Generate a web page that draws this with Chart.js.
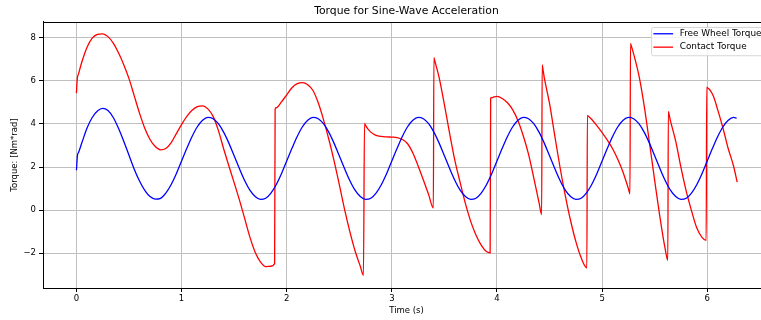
<!DOCTYPE html>
<html>
<head>
<meta charset="utf-8">
<script src="https://cdn.jsdelivr.net/npm/chart.js@4.4.1/dist/chart.umd.min.js"></script>
<style>
  html, body { margin: 0; padding: 0; background: #fff; overflow: hidden; }
  #wrap { width: 761px; height: 320px; overflow: hidden; }
</style>
</head>
<body>
<div id="wrap"><canvas id="torqueChart" width="790" height="320"></canvas></div>
<script>
// chart text
const chartTitle = 'Torque for Sine-Wave Acceleration';
const xLabel = 'Time (s)';
const yLabel = 'Torque: [Nm*rad]';
const seriesNames = ['Free Wheel Torque', 'Contact Torque'];

// axis ticks and range
const xTicks = [0, 1, 2, 3, 4, 5, 6];
const yTicks = [-2, 0, 2, 4, 6, 8];
const xRange = [-0.318, 6.597];
const yRange = [-3.61, 8.73];

// free wheel torque (blue)
const blueTime = [
    0, 0.01, 0.02, 0.05, 0.1, 0.15, 0.2, 0.25, 0.3, 0.35, 0.4, 0.45, 0.5, 0.55, 0.6, 0.65, 0.7, 0.75, 0.8, 0.85, 0.9, 0.95,
    1, 1.05, 1.1, 1.15, 1.2, 1.25, 1.3, 1.35, 1.4, 1.45, 1.5, 1.55, 1.6, 1.65, 1.7, 1.75, 1.8, 1.85, 1.9, 1.95,
    2, 2.05, 2.1, 2.15, 2.2, 2.25, 2.3, 2.35, 2.4, 2.45, 2.5, 2.55, 2.6, 2.65, 2.7, 2.75, 2.8, 2.85, 2.9, 2.95,
    3, 3.05, 3.1, 3.15, 3.2, 3.25, 3.3, 3.35, 3.4, 3.45, 3.5, 3.55, 3.6, 3.65, 3.7, 3.75, 3.8, 3.85, 3.9, 3.95,
    4, 4.05, 4.1, 4.15, 4.2, 4.25, 4.3, 4.35, 4.4, 4.45, 4.5, 4.55, 4.6, 4.65, 4.7, 4.75, 4.8, 4.85, 4.9, 4.95,
    5, 5.05, 5.1, 5.15, 5.2, 5.25, 5.3, 5.35, 5.4, 5.45, 5.5, 5.55, 5.6, 5.65, 5.7, 5.75, 5.8, 5.85, 5.9, 5.95,
    6, 6.05, 6.1, 6.15, 6.2, 6.25, 6.28
];
const blueTorque = [
    1.85, 2.55, 2.68, 3.1, 3.8, 4.3, 4.6, 4.72, 4.62, 4.3, 3.8, 3.2, 2.55, 1.9, 1.35, 0.92, 0.63, 0.51, 0.55, 0.79, 1.18, 1.69,
    2.28, 2.87, 3.42, 3.87, 4.17, 4.3, 4.24, 4.01, 3.62, 3.11, 2.52, 1.93, 1.38, 0.93, 0.63, 0.5, 0.55, 0.79, 1.18, 1.69,
    2.28, 2.87, 3.42, 3.87, 4.17, 4.3, 4.24, 4.01, 3.62, 3.11, 2.52, 1.93, 1.38, 0.93, 0.63, 0.5, 0.55, 0.79, 1.18, 1.69,
    2.28, 2.87, 3.42, 3.87, 4.17, 4.3, 4.24, 4.01, 3.62, 3.11, 2.52, 1.93, 1.38, 0.93, 0.63, 0.5, 0.55, 0.79, 1.18, 1.69,
    2.28, 2.87, 3.42, 3.87, 4.17, 4.3, 4.24, 4.01, 3.62, 3.11, 2.52, 1.93, 1.38, 0.93, 0.63, 0.5, 0.55, 0.79, 1.18, 1.69,
    2.28, 2.87, 3.42, 3.87, 4.17, 4.3, 4.24, 4.01, 3.62, 3.11, 2.52, 1.93, 1.38, 0.93, 0.63, 0.5, 0.55, 0.79, 1.18, 1.69,
    2.28, 2.87, 3.42, 3.87, 4.17, 4.3, 4.27
];

// contact torque (red), one line per stretch between the jumps
const redTime = [
    0, 0.008, 0.02, 0.05, 0.1, 0.15, 0.2, 0.25, 0.3, 0.35, 0.4, 0.45, 0.5, 0.55, 0.6, 0.65, 0.7, 0.75, 0.8, 0.85, 0.9,
    0.95, 1, 1.05, 1.1, 1.15, 1.2, 1.25, 1.3, 1.35, 1.4, 1.45, 1.5, 1.55, 1.6, 1.65, 1.7, 1.75, 1.8, 1.85, 1.885,
    1.89, 1.9, 1.95, 2, 2.05, 2.1, 2.15, 2.2, 2.25, 2.3, 2.35, 2.4, 2.45, 2.5, 2.55, 2.6, 2.65, 2.7, 2.73,
    2.74, 2.75, 2.77, 2.8, 2.85, 2.9, 2.95, 3, 3.05, 3.1, 3.15, 3.2, 3.25, 3.3, 3.35, 3.395,
    3.4, 3.41, 3.45, 3.5, 3.55, 3.6, 3.65, 3.7, 3.75, 3.8, 3.85, 3.9, 3.935,
    3.94, 3.95, 3.97, 4, 4.05, 4.1, 4.15, 4.2, 4.25, 4.3, 4.35, 4.4, 4.425,
    4.43, 4.44, 4.45, 4.5, 4.55, 4.6, 4.65, 4.7, 4.75, 4.8, 4.855,
    4.86, 4.87, 4.9, 4.95, 5, 5.05, 5.1, 5.15, 5.2, 5.25, 5.265,
    5.27, 5.28, 5.3, 5.35, 5.4, 5.45, 5.5, 5.55, 5.6, 5.625,
    5.63, 5.64, 5.65, 5.7, 5.75, 5.8, 5.85, 5.9, 5.95, 5.99,
    5.995, 6.005, 6.03, 6.06, 6.1, 6.15, 6.2, 6.25, 6.285
];
const redTorque = [
    5.43, 6.1, 6.32, 6.85, 7.55, 7.98, 8.15, 8.18, 8.05, 7.75, 7.3, 6.75, 6.1, 5.3, 4.5, 3.8, 3.28, 2.95, 2.8, 2.86, 3.12,
    3.55, 3.97, 4.35, 4.63, 4.8, 4.84, 4.7, 4.35, 3.7, 2.85, 2.05, 1.28, 0.48, -0.38, -1.25, -1.95, -2.4, -2.62, -2.6, -2.48,
    4.69, 4.75, 5.02, 5.35, 5.68, 5.87, 5.92, 5.82, 5.55, 4.98, 4.2, 3.3, 2.3, 1.2, 0.05, -0.98, -1.88, -2.6, -3.02,
    4.02, 3.93, 3.78, 3.62, 3.47, 3.42, 3.4, 3.39, 3.37, 3.28, 3.08, 2.65, 2.05, 1.4, 0.72, 0.1,
    7.08, 6.9, 6.15, 4.9, 3.55, 2.3, 1.28, 0.3, -0.52, -1.15, -1.62, -1.92, -1.98,
    5.2, 5.22, 5.25, 5.28, 5.18, 4.98, 4.65, 4.15, 3.45, 2.6, 1.5, 0.35, -0.2,
    6.74, 6.45, 6.15, 4.95, 3.45, 1.98, 0.68, -0.48, -1.45, -2.2, -2.68,
    4.4, 4.36, 4.22, 3.92, 3.6, 3.25, 2.85, 2.35, 1.75, 1.0, 0.76,
    7.74, 7.58, 7.25, 6.25, 4.85, 3.15, 1.38, -0.32, -1.8, -2.32,
    4.58, 4.37, 4.15, 3.2, 1.98, 0.88, -0.02, -0.82, -1.26, -1.4,
    5.71, 5.67, 5.55, 5.27, 4.65, 3.8, 2.85, 2.05, 1.3
];

const seriesColors = ['#0000ff', '#ff0000'];

Chart.defaults.font.family = '"DejaVu Sans", sans-serif';
Chart.defaults.color = '#000';

function toPoints(times, values) {
    return times.map((t, i) => ({ x: t, y: values[i] }));
}

function minusSign(v) {
    return v < 0 ? '\u2212' + Math.abs(v) : String(v);
}

// axes frame (top and right spines too, like matplotlib)
const framePlugin = {
    id: 'frame',
    afterDatasetsDraw(chart) {
        const a = chart.chartArea;
        const ctx = chart.ctx;
        ctx.save();
        ctx.strokeStyle = '#000';
        ctx.lineWidth = 1;
        ctx.strokeRect(Math.round(a.left) + 0.5, Math.round(a.top) + 0.5,
            Math.round(a.right - a.left), Math.round(a.bottom - a.top));
        ctx.restore();
    }
};

// legend box in the upper right corner of the plot
const boxLegend = {
    id: 'boxLegend',
    afterDraw(chart) {
        const a = chart.chartArea;
        const ctx = chart.ctx;
        const sets = chart.data.datasets;
        ctx.save();
        ctx.font = '8.9px "DejaVu Sans"';
        const textW = Math.max(...sets.map(d => ctx.measureText(d.label).width));
        const right = a.right - 4;
        const left = right - (2.3 + 19.7 + 6.6 + textW + 4.5);
        const top = a.top + 5;
        const bottom = top + 28.3;
        ctx.fillStyle = 'rgba(255,255,255,0.8)';
        ctx.strokeStyle = '#d6d6d6';
        ctx.lineWidth = 1;
        ctx.beginPath();
        ctx.roundRect(left + 0.5, top + 0.5, right - left, bottom - top, 2);
        ctx.fill();
        ctx.stroke();
        sets.forEach((d, i) => {
            const y = top + 6.8 + i * 13.4;
            ctx.strokeStyle = d.borderColor;
            ctx.lineWidth = 1.3;
            ctx.beginPath();
            ctx.moveTo(left + 2.3, y);
            ctx.lineTo(left + 22, y);
            ctx.stroke();
            ctx.fillStyle = '#000';
            ctx.textBaseline = 'middle';
            ctx.fillText(d.label, left + 28.6, y);
        });
        ctx.restore();
    }
};

const gridStyle = {
    color: '#c0c0c0',
    lineWidth: 1,
    tickLength: 4,
    tickColor: '#000',
    tickWidth: 1
};

const ctx = document.getElementById('torqueChart').getContext('2d');
new Chart(ctx, {
    type: 'line',
    data: {
        datasets: [
            {
                label: seriesNames[0],
                data: toPoints(blueTime, blueTorque),
                borderColor: seriesColors[0],
                borderWidth: 1.3,
                pointRadius: 0,
                cubicInterpolationMode: 'monotone',
                fill: false
            },
            {
                label: seriesNames[1],
                data: toPoints(redTime, redTorque),
                borderColor: seriesColors[1],
                borderWidth: 1.3,
                pointRadius: 0,
                cubicInterpolationMode: 'monotone',
                fill: false
            }
        ]
    },
    options: {
        responsive: false,
        animation: false,
        devicePixelRatio: 1,
        layout: { padding: { left: 0, right: 20, top: 0, bottom: 0 } },
        plugins: {
            legend: { display: false },
            tooltip: { enabled: false },
            title: {
                display: true,
                fullSize: false,
                text: chartTitle,
                color: '#000',
                font: { size: 10.8, weight: 'normal' },
                padding: { top: 5, bottom: 4 }
            }
        },
        scales: {
            x: {
                type: 'linear',
                min: xRange[0],
                max: xRange[1],
                afterBuildTicks: s => { s.ticks = xTicks.map(v => ({ value: v })); },
                afterFit: s => { s.height = 32; },
                grid: gridStyle,
                border: { display: true, color: '#000', width: 1 },
                ticks: { font: { size: 8.5 }, color: '#000', padding: 2, maxRotation: 0, autoSkip: false, callback: v => minusSign(v) },
                title: { display: true, text: xLabel, font: { size: 8.5 }, color: '#000', padding: { top: 0, bottom: 4 } }
            },
            y: {
                type: 'linear',
                min: yRange[0],
                max: yRange[1],
                afterBuildTicks: s => { s.ticks = yTicks.map(v => ({ value: v })); },
                afterFit: s => { s.width = 43; },
                grid: gridStyle,
                border: { display: true, color: '#000', width: 1 },
                ticks: { font: { size: 8.5 }, color: '#000', padding: 3, autoSkip: false, callback: v => minusSign(v) },
                title: { display: true, text: yLabel, font: { size: 8.5 }, color: '#000', padding: { top: 10, bottom: 0 } }
            }
        }
    },
    plugins: [framePlugin, boxLegend]
});
</script>
</body>
</html>
